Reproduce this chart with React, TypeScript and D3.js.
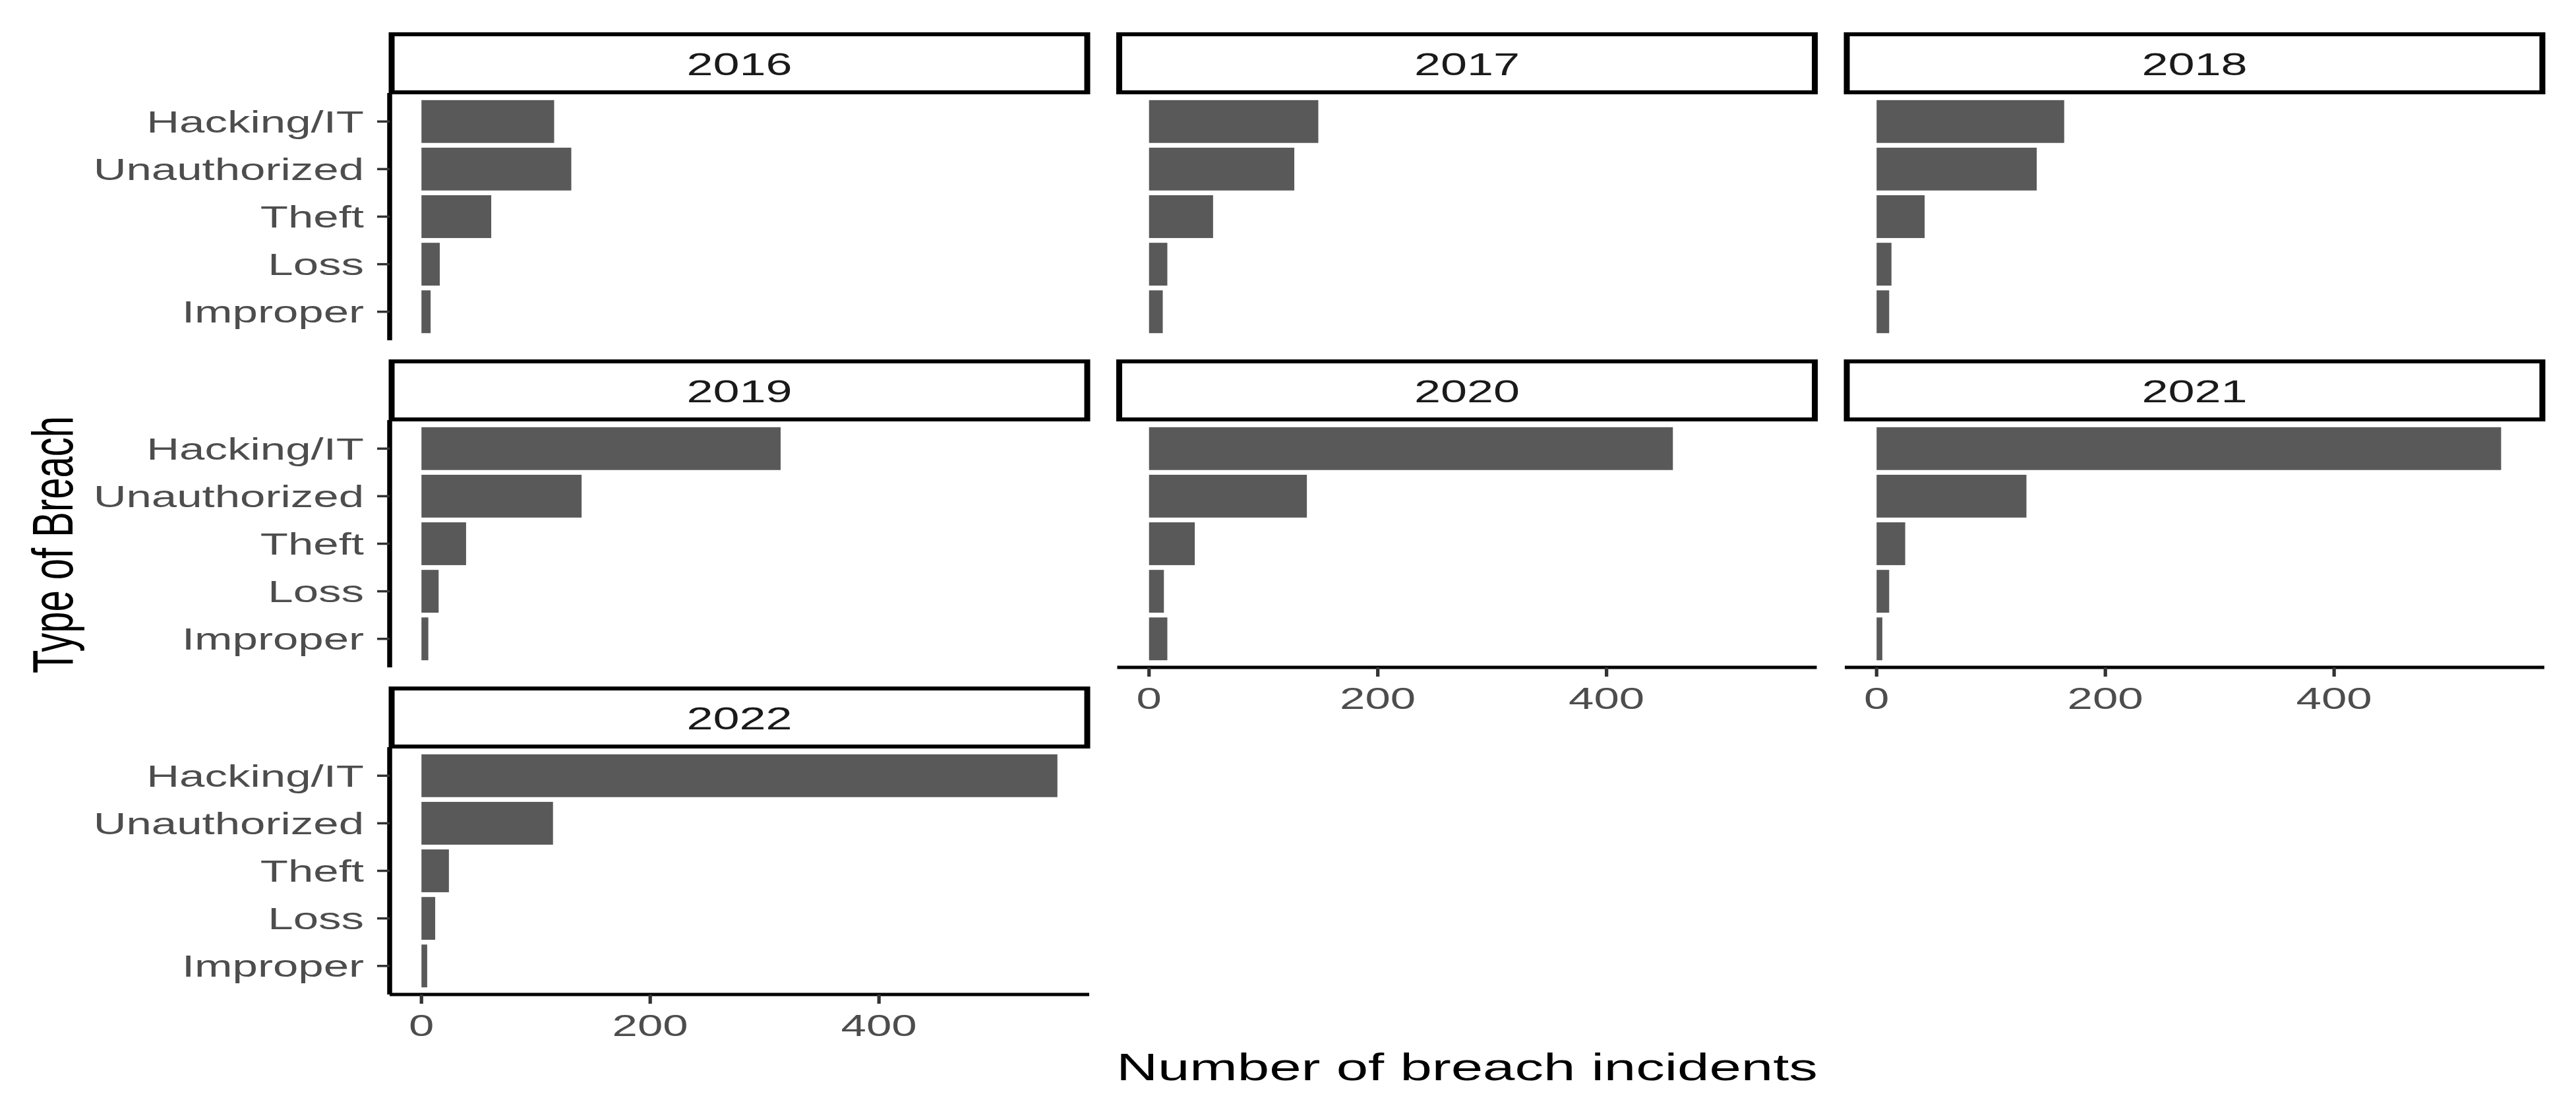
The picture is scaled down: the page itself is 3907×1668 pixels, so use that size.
import React from 'react';
import * as d3 from 'd3';

const years = ['2016', '2017', '2018', '2019', '2020', '2021', '2022'];
const breachTypes = ['Hacking/IT', 'Unauthorized', 'Theft', 'Loss', 'Improper'];

// counts per year, same order as years
const hacking = [116, 148, 164, 314, 458, 546, 556];
const unauthorized = [131, 127, 140, 140, 138, 131, 115];
const theft = [61, 56, 42, 39, 40, 25, 24];
const loss = [16, 16, 13, 15, 13, 11, 12];
const improper = [8, 12, 11, 6, 16, 5, 5];

const xTicks = [0, 200, 400];

const W = 3907;
const H = 1668;
// the source picture is stretched horizontally; draw in unstretched units and scale x
const SX = 1.5;
const FONT = '"Liberation Sans", Arial, sans-serif';

const NCOL = 3;
const colLeft = (c: number) => (591 + 1103.5 * c) / SX;
const panelW = 1061 / SX;
const stripTop = (r: number) => 52 + 496 * r;
const stripH = 88;
const panelTop = (r: number) => stripTop(r) + 89;
const panelH = 375;

export default function App() {
  const series = [hacking, unauthorized, theft, loss, improper];
  const maxV = d3.max(series.flat()) ?? 0;
  const nPanels = years.length;

  const panels = years.map((year, i) => {
    const col = i % NCOL;
    const row = Math.floor(i / NCOL);
    const left = colLeft(col);
    const top = panelTop(row);
    const x = d3.scaleLinear().domain([-0.05 * maxV, maxV * 1.05]).range([left, left + panelW]);
    const y = d3.scaleLinear().domain([0.4, breachTypes.length + 0.6]).range([top, top + panelH]);
    const showY = col === 0;
    const showX = i + NCOL >= nPanels;
    const bottom = top + panelH;

    return (
      <g key={year}>
        {/* strip */}
        <rect x={left + 2} y={stripTop(row)} width={panelW - 4} height={stripH}
          fill="white" stroke="black" strokeWidth={6} />
        <text x={left + panelW / 2} y={stripTop(row) + stripH / 2 + 2}
          textAnchor="middle" dominantBaseline="central" fontSize={48} fill="#1a1a1a"
          fontFamily={FONT}>{year}</text>

        {/* bars */}
        {breachTypes.map((t, k) => {
          const v = series[k][i];
          return (
            <rect key={t} x={x(0)} y={y(k + 1 - 0.45)} width={x(v) - x(0)}
              height={y(k + 1 + 0.45) - y(k + 1 - 0.45)} fill="#595959" />
          );
        })}

        {showY && (
          <g>
            <line x1={left} x2={left} y1={top} y2={bottom} stroke="black" strokeWidth={5} />
            {breachTypes.map((t, k) => (
              <g key={t}>
                <line x1={left - 19 / SX} x2={left} y1={y(k + 1)} y2={y(k + 1)}
                  stroke="#333" strokeWidth={3.5} />
                <text x={left - 39 / SX} y={y(k + 1)} dy="0.36em" textAnchor="end"
                  fontSize={46} fill="#4d4d4d" fontFamily={FONT}>{t}</text>
              </g>
            ))}
          </g>
        )}

        {showX && (
          <g>
            <line x1={left} x2={left + panelW} y1={bottom} y2={bottom} stroke="black" strokeWidth={5} />
            {xTicks.map(t => (
              <g key={t}>
                <line x1={x(t)} x2={x(t)} y1={bottom} y2={bottom + 14} stroke="#333" strokeWidth={3.5} />
                <text x={x(t)} y={bottom + 63} textAnchor="middle" fontSize={46}
                  fill="#4d4d4d" fontFamily={FONT}>{t}</text>
              </g>
            ))}
          </g>
        )}
      </g>
    );
  });

  const areaLeft = colLeft(0);
  const areaRight = colLeft(NCOL - 1) + panelW;

  return (
    <div style={{ position: 'absolute', left: 0, top: 0, background: 'white' }}>
      <svg width={W} height={H} viewBox={`0 0 ${W} ${H}`} style={{ display: 'block' }}>
        <rect width={W} height={H} fill="white" />
        <g transform={`scale(${SX},1)`}>
          {panels}
          <text x={(areaLeft + areaRight) / 2} y={1638} textAnchor="middle" fontSize={58}
            fill="black" fontFamily={FONT}>Number of breach incidents</text>
          <text transform={`translate(${110 / SX},826) rotate(-90)`} textAnchor="middle"
            fontSize={58} fill="black" fontFamily={FONT}>Type of Breach</text>
        </g>
      </svg>
    </div>
  );
}
